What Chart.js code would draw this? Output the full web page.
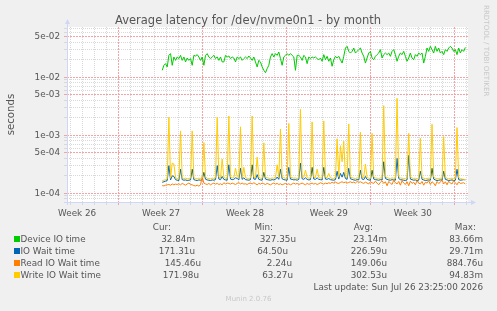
<!DOCTYPE html>
<html><head><meta charset="utf-8">
<script src="https://cdn.jsdelivr.net/npm/chart.js@4/dist/chart.umd.min.js"></script>
<style>
html,body{margin:0;padding:0;background:#f0f0f0;}
#wrap{position:relative;width:497px;height:311px;overflow:hidden;font-family:"DejaVu Sans",sans-serif;color:#555;}
#c{position:absolute;left:0;top:0;}
.t{position:absolute;white-space:nowrap;}
.sw{position:absolute;width:6px;height:6px;}
</style></head><body>
<div id="wrap"><canvas id="c" width="497" height="311"></canvas></div>
<script>
// ---- data ----
const START_HOUR = 87.4;       // first sample, hours after the week-27 grid line
const STEP_HOURS = 10 / 3;     // spacing between read samples
const DEVICE_MS = [
13.2,16.1,17.2,15.1,23.9,25.6,16.1,22.4,19.6,22.4,
21.0,23.9,19.6,22.4,18.4,21.5,19.6,21.0,16.1,23.9,
23.3,24.6,22.4,19.6,22.4,16.1,23.9,25.6,22.4,21.0,
22.4,23.9,21.0,22.4,19.6,22.4,18.4,18.4,23.9,22.4,
23.3,21.0,22.4,21.5,18.4,22.4,21.0,22.4,19.6,21.0,
22.4,21.0,23.3,21.5,19.6,22.4,18.4,15.1,19.6,18.4,
15.1,13.2,12.0,14.1,16.1,22.4,25.6,22.4,25.6,23.9,
27.3,21.0,16.1,22.4,23.9,25.6,23.9,25.6,23.9,22.4,
13.2,23.9,23.9,22.4,19.6,23.9,22.4,17.2,22.4,21.0,
22.4,21.5,22.4,21.0,
20.1,21.5,18.9,24.6,20.1,23.0,18.9,21.5,15.5,20.1,
23.0,21.5,23.0,20.1,17.6,23.0,32.0,34.2,28.0,26.2,
28.0,32.0,26.2,28.0,30.0,32.0,26.2,23.0,17.6,21.5,
26.2,28.0,21.5,20.1,23.0,24.6,26.2,30.0,21.5,24.6,
26.2,24.6,26.2,23.0,28.0,30.0,24.6,18.9,23.0,26.2,
24.6,28.0,23.0,18.9,21.5,26.2,21.5,20.1,24.6,23.0,
26.2,24.6,26.2,17.6,23.0,32.0,28.0,34.2,30.0,26.2,
34.2,28.0,32.0,26.2,28.0,24.6,30.0,28.0,32.0,34.2,
32.0,28.0,30.0,24.6,32.0,26.2,30.0,28.0,32.8];
const IOWAIT_US = [
155,158,162,166,300,170,200,195,172,168,
166,260,172,168,170,166,168,170,260,172,
168,166,170,168,172,230,175,170,168,166,
170,168,172,300,176,172,195,174,170,168,
310,176,172,174,185,180,170,270,174,185,
172,170,168,172,310,176,174,210,174,170,
168,230,176,172,170,168,172,170,174,190,
174,260,178,172,170,168,280,176,174,170,
172,168,174,330,178,174,185,174,170,172,
280,176,174,185,174,172,170,280,176,174,
180,172,170,168,172,240,176,220,190,230,
180,174,270,178,174,170,168,172,170,250,
176,172,195,174,170,168,250,176,172,170,
168,172,170,350,180,174,170,168,172,170,
168,400,180,172,170,168,166,170,450,176,
172,168,170,166,168,240,174,170,166,168,
170,168,270,176,170,166,168,170,168,240,
174,170,166,168,170,166,168,260,172,168,
170,172,171];
const READ_US = [
136,134,138,140,142,138,145,140,144,142,
146,140,148,143,138,145,150,142,140,136,
134,138,133,140,195,150,145,142,148,140,
146,150,144,148,142,146,140,152,145,150,
148,144,150,146,142,148,153,145,150,144,
146,142,148,150,145,152,146,140,148,144,
150,146,142,148,144,140,146,150,144,148,
142,146,140,144,148,142,146,140,145,150,
144,148,142,146,150,145,140,148,143,146,
150,144,148,142,146,152,148,144,150,146,
152,148,155,150,156,150,148,154,158,152,
156,150,154,158,152,156,150,160,154,158,
152,148,156,150,145,158,152,148,162,150,
140,155,165,148,158,135,160,150,142,168,
152,145,160,138,165,150,142,158,135,162,
148,155,140,165,150,145,160,138,155,150,
165,142,158,150,135,160,148,155,170,145,
158,140,162,150,145,165,152,140,158,148,
150,152,145];
const WRITE_US = [
165,168,172,178,2050,182,330,320,185,180,
178,1190,185,180,182,178,180,183,1190,186,
180,178,182,180,185,750,190,182,180,178,
183,180,185,2050,190,185,390,188,182,180,
2150,190,184,186,270,195,182,1400,188,280,
185,182,180,184,2150,190,186,420,188,182,
180,740,190,185,182,180,184,182,186,310,
188,1280,192,185,182,180,1600,190,186,182,
184,180,186,2800,192,188,250,186,182,184,
1700,190,186,260,188,184,182,1770,190,186,
220,184,182,180,185,870,190,660,350,790,
195,188,1570,192,186,182,180,184,182,1130,
190,186,320,188,182,180,1080,190,184,182,
180,184,182,3240,195,186,182,180,184,182,
180,4350,195,184,182,180,178,182,1080,190,
184,180,182,178,180,890,188,182,178,180,
182,180,1550,190,182,178,180,182,180,950,
188,182,178,180,182,178,180,1360,186,180,
176,174,172];

const SERIES_NAMES = ['Device IO time','IO Wait time','Read IO Wait time','Write IO Wait time'];
const SERIES_COLORS = ['#00cc00','#0066b3','#ff8000','#ffcc00'];
const CUR = ['32.84m','171.31u','145.46u','171.98u'];
const MIN = ['327.35u','64.50u','2.24u','63.27u'];
const AVG = ['23.14m','226.59u','149.06u','302.53u'];
const MAX = ['83.66m','29.71m','884.76u','94.83m'];

const X_MIN = -103.2, X_MAX = 699.4;          // hours
const DAY_GRID = [-96,-72,-48,-24,0,24,48,72,96,120,144,168,192,216,240,264,288,312,336,360,384,408,432,456,480,504,528,552,576,600,624,648,672,696];
const WEEK_GRID = [0,168,336,504,672];
const WEEK_LABEL_POS = [-83,85,253,421,589];
const WEEK_LABELS = ['Week 26','Week 27','Week 28','Week 29','Week 30'];
const Y_MIN = 7.08e-5, Y_MAX = 7.367e-2;
const Y_GRID = [8e-5,9e-5,1e-4,2e-4,3e-4,4e-4,5e-4,6e-4,7e-4,8e-4,9e-4,1e-3,2e-3,3e-3,4e-3,5e-3,6e-3,7e-3,8e-3,9e-3,1e-2,2e-2,3e-2,4e-2,5e-2,6e-2,7e-2];
const Y_LABELS = ['','','1e-04','','','','5e-04','','','','','1e-03','','','','5e-03','','','','','1e-02','','','','5e-02','',''];

// ---- chart ----
const FONT = '"DejaVu Sans", sans-serif';
const TXT = '#555';
const MINOR = '#d8d8d8', MAJOR = '#f3a3a3';
function pts(arr, scale){ return arr.map((v,i)=>({x: START_HOUR + i*STEP_HOURS, y: v*scale})); }

const bgPlugin = {
  id:'bg',
  beforeDraw(ch){ const a=ch.chartArea, c=ch.ctx; c.save(); c.fillStyle='#fff'; c.fillRect(a.left,a.top,a.right-a.left,a.bottom-a.top); c.restore(); },
  afterDraw(ch){
    const a=ch.chartArea, c=ch.ctx; c.save(); c.strokeStyle='#CFD6F8'; c.fillStyle='#CFD6F8'; c.lineWidth=1;
    c.beginPath(); c.moveTo(a.left+0.5,a.bottom+3); c.lineTo(a.left+0.5,a.top-4); c.stroke();
    c.beginPath(); c.moveTo(a.left-3,a.bottom+0.5); c.lineTo(a.right+4,a.bottom+0.5); c.stroke();
    c.beginPath(); c.moveTo(a.left-2,a.top-3); c.lineTo(a.left+3,a.top-3); c.lineTo(a.left+0.5,a.top-8); c.closePath(); c.fill();
    c.beginPath(); c.moveTo(a.right+3,a.bottom-2); c.lineTo(a.right+3,a.bottom+3); c.lineTo(a.right+8,a.bottom+0.5); c.closePath(); c.fill();
    c.restore();
  }
};
const isMajorX = c => c.tick ? WEEK_GRID.includes(c.tick.value) : false;
const isMajorY = c => !!Y_LABELS[c.index];

new Chart(document.getElementById('c'), {
  type:'line',
  data:{datasets:[
    {label:SERIES_NAMES[0], data:pts(DEVICE_MS,1e-3), borderColor:SERIES_COLORS[0], order:3},
    {label:SERIES_NAMES[1], data:pts(IOWAIT_US,1e-6), borderColor:SERIES_COLORS[1], order:2},
    {label:SERIES_NAMES[2], data:pts(READ_US,1e-6), borderColor:SERIES_COLORS[2], order:1},
    {label:SERIES_NAMES[3], data:pts(WRITE_US,1e-6), borderColor:SERIES_COLORS[3], order:0}
  ].map(d=>Object.assign(d,{borderWidth:1,pointRadius:0,tension:0,fill:false}))},
  options:{
    responsive:false, animation:false, devicePixelRatio:1,
    layout:{padding:{left:0,top:27,right:29,bottom:89}},
    plugins:{legend:{display:false}, tooltip:{enabled:false}, title:{display:false}},
    scales:{
      x:{type:'linear', position:'bottom', weight:0, min:X_MIN, max:X_MAX, bounds:'data',
        afterBuildTicks:s=>{ s.ticks = DAY_GRID.map(v=>({value:v})); },
        afterFit:s=>{ s.height = 3; },
        ticks:{display:false},
        grid:{color:c=>isMajorX(c)?MAJOR:MINOR, tickColor:c=>isMajorX(c)?MAJOR:MINOR, tickLength:3, lineWidth:1},
        border:{display:false, dash:c=>isMajorX(c)?[2,1]:[1,1]}},
      xl:{type:'linear', position:'bottom', weight:1, min:X_MIN, max:X_MAX, bounds:'data',
        afterBuildTicks:s=>{ s.ticks = WEEK_LABEL_POS.map(v=>({value:v})); },
        afterFit:s=>{ s.height = 17; },
        grid:{display:false, drawTicks:false}, border:{display:false},
        ticks:{autoSkip:false, maxRotation:0, minRotation:0, padding:3, color:TXT, font:{family:FONT,size:8.8},
          callback:(v,i)=>WEEK_LABELS[i]}},
      y:{type:'logarithmic', position:'left', min:Y_MIN, max:Y_MAX, bounds:'data',
        afterBuildTicks:s=>{ s.ticks = Y_GRID.map(v=>({value:v})); },
        afterFit:s=>{ s.width = 67; },
        ticks:{autoSkip:false, padding:4, color:TXT, font:{family:FONT,size:8.8}, callback:(v,i)=>Y_LABELS[i]},
        grid:{color:c=>isMajorY(c)?MAJOR:MINOR, tickColor:c=>isMajorY(c)?MAJOR:MINOR, tickLength:3, lineWidth:1},
        border:{display:false, dash:c=>isMajorY(c)?[2,1]:[1,1]},
        title:{display:true, text:'seconds', color:TXT, font:{family:FONT,size:10.2}, padding:{top:5,bottom:0}}}
    }
  },
  plugins:[bgPlugin]
});

// ---- text around the chart ----
const wrap = document.getElementById('wrap');
function txt(s, o){
  const e=document.createElement('div'); e.className='t'; e.textContent=s;
  const fs=o.size||8.8; e.style.fontSize=fs+'px'; e.style.lineHeight=fs+'px';
  e.style.top=(o.base-0.846*fs)+'px';
  if(o.right!==undefined) e.style.right=(497-o.right)+'px'; else if(o.center!==undefined){ e.style.left=o.center+'px'; e.style.transform='translateX(-50%)'; } else e.style.left=o.left+'px';
  if(o.color) e.style.color=o.color;
  wrap.appendChild(e); return e;
}
txt('Average latency for /dev/nvme0n1 - by month',{center:248,base:25,size:11.5});
txt('Cur:',{right:171,base:230.5}); txt('Min:',{right:273,base:230.5}); txt('Avg:',{right:373,base:230.5}); txt('Max:',{right:476,base:230.5});
const curR=[195,195,201,199], minR=[296,288,292,293];
SERIES_NAMES.forEach((n,i)=>{
  const b=242.5+12*i;
  const sw=document.createElement('div'); sw.className='sw'; sw.style.left='14px'; sw.style.top=(b-6.5)+'px'; sw.style.background=SERIES_COLORS[i]; wrap.appendChild(sw);
  txt(n,{left:20.5,base:b});
  txt(CUR[i],{right:curR[i],base:b}); txt(MIN[i],{right:minR[i],base:b});
  txt(AVG[i],{right:387,base:b}); txt(MAX[i],{right:483,base:b});
});
txt('Last update: Sun Jul 26 23:25:00 2026',{right:483,base:290.5});
txt('Munin 2.0.76',{center:248.5,base:302,size:7,color:'#c8c8c8'});
const w=document.createElement('div'); w.className='t'; w.textContent='RRDTOOL / TOBI OETIKER';
Object.assign(w.style,{writingMode:'vertical-rl',fontSize:'7.1px',lineHeight:'8px',left:'482px',top:'5px',color:'#c8c8c8'});
wrap.appendChild(w);
</script>
</body></html>
